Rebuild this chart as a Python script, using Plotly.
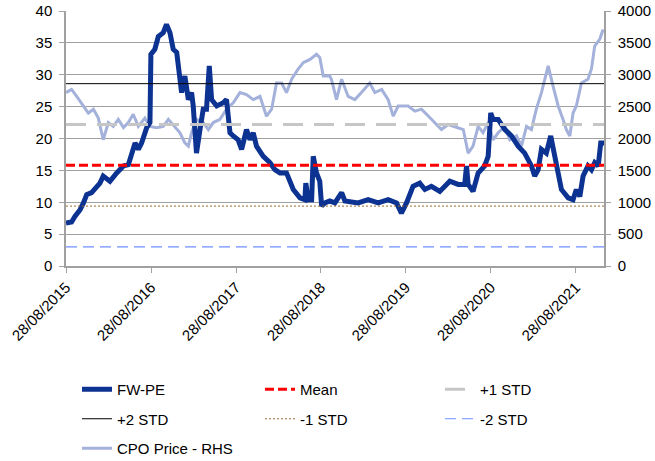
import pandas as pd
import plotly.graph_objects as go

# ---- data (x = years elapsed since 28/08/2015) ----
start_date = "2015-08-28"
end_offset = 6.333

fwpe_t = [0.000, 0.067, 0.106, 0.165, 0.204, 0.243, 0.302, 0.361, 0.400, 0.439,
          0.518, 0.596, 0.675, 0.733, 0.773, 0.812, 0.851, 0.890, 0.949, 0.988,
          1.000, 1.047, 1.086, 1.145, 1.184, 1.224, 1.263, 1.302, 1.341, 1.361,
          1.400, 1.439, 1.478, 1.498, 1.537, 1.557, 1.576, 1.616, 1.655, 1.686,
          1.714, 1.773, 1.851, 1.890, 1.929, 1.969, 2.027, 2.067, 2.125, 2.165,
          2.204, 2.243, 2.322, 2.400, 2.459, 2.518, 2.596, 2.675, 2.753, 2.812,
          2.824, 2.851, 2.890, 2.910, 2.949, 2.988, 3.008, 3.047, 3.106, 3.165,
          3.243, 3.282, 3.439, 3.557, 3.675, 3.792, 3.890, 3.949, 4.008, 4.086,
          4.165, 4.224, 4.302, 4.400, 4.518, 4.616, 4.694, 4.714, 4.733, 4.792,
          4.851, 4.929, 4.969, 5.000, 5.027, 5.086, 5.165, 5.243, 5.322, 5.400,
          5.478, 5.518, 5.557, 5.596, 5.655, 5.706, 5.753, 5.792, 5.831, 5.910,
          5.969, 6.008, 6.047, 6.086, 6.145, 6.184, 6.224, 6.263, 6.294, 6.333]
fwpe_v = [6.75, 6.9, 7.8, 8.8, 9.9, 11.2, 11.5, 12.5, 13.0, 14.1,
          13.3, 14.6, 15.7, 15.9, 17.7, 19.3, 18.3, 19.3, 21.7, 22.5,
          33.2, 34.0, 36.0, 36.6, 37.9, 36.6, 34.0, 33.5, 29.3, 27.2,
          29.8, 26.1, 27.2, 25.1, 17.7, 19.3, 21.4, 24.6, 24.6, 31.4,
          26.1, 25.1, 25.6, 26.1, 20.9, 20.4, 19.8, 18.3, 21.4, 19.8,
          20.9, 18.8, 17.2, 16.2, 15.1, 14.6, 14.6, 12.0, 10.7, 10.4,
          13.0, 10.4, 10.4, 17.2, 14.6, 13.3, 9.4, 9.9, 10.2, 9.9,
          11.5, 10.2, 9.9, 10.4, 9.9, 10.4, 9.9, 8.3, 9.9, 12.5,
          13.0, 12.0, 12.5, 11.7, 13.3, 12.8, 12.8, 15.7, 12.8, 11.7,
          14.6, 15.7, 17.2, 24.0, 23.0, 23.0, 21.4, 20.4, 18.8, 17.7,
          15.7, 14.1, 15.1, 18.3, 17.7, 20.4, 17.2, 14.6, 12.0, 10.7,
          10.4, 12.0, 10.9, 14.1, 15.7, 15.1, 16.2, 15.7, 19.3, 19.3]

cpo_t = [0.000, 0.067, 0.125, 0.204, 0.263, 0.322, 0.380, 0.439, 0.498, 0.557,
         0.616, 0.675, 0.733, 0.792, 0.851, 0.929, 0.988, 1.067, 1.145, 1.204,
         1.282, 1.341, 1.400, 1.439, 1.478, 1.537, 1.616, 1.675, 1.733, 1.812,
         1.890, 1.969, 2.047, 2.125, 2.204, 2.282, 2.361, 2.420, 2.478, 2.537,
         2.596, 2.655, 2.733, 2.792, 2.871, 2.949, 2.988, 3.027, 3.106, 3.125,
         3.184, 3.243, 3.322, 3.400, 3.478, 3.576, 3.635, 3.714, 3.792, 3.851,
         3.910, 4.027, 4.106, 4.184, 4.243, 4.341, 4.420, 4.498, 4.596, 4.675,
         4.733, 4.792, 4.851, 4.910, 4.969, 5.027, 5.086, 5.165, 5.224, 5.302,
         5.361, 5.420, 5.478, 5.537, 5.596, 5.675, 5.733, 5.792, 5.851, 5.890,
         5.929, 5.969, 6.008, 6.067, 6.145, 6.184, 6.224, 6.282, 6.322]
cpo_v = [2720, 2770, 2660, 2510, 2400, 2460, 2320, 1980, 2250, 2190,
         2300, 2170, 2250, 2380, 2190, 2320, 2190, 2170, 2190, 2300,
         2190, 2090, 1930, 1880, 2090, 2300, 2250, 2140, 2250, 2300,
         2460, 2560, 2720, 2690, 2610, 2660, 2350, 2460, 2870, 2870,
         2720, 2930, 3090, 3190, 3240, 3320, 3270, 2980, 2980, 2930,
         2610, 2930, 2660, 2610, 2720, 2870, 2720, 2770, 2610, 2350,
         2510, 2510, 2430, 2460, 2380, 2250, 2140, 2220, 2170, 2140,
         1770, 1880, 2190, 2090, 2250, 1980, 2090, 2190, 1980, 2040,
         1880, 2190, 2140, 2460, 2720, 3140, 2820, 2510, 2300, 2140,
         2040, 2400, 2510, 2870, 2930, 3090, 3450, 3560, 3710]

mean_pe = 15.8
plus1_std = 22.2
plus2_std = 28.6
minus1_std = 9.4
minus2_std = 3.0

tick_dates = ["2015-08-28", "2016-08-28", "2017-08-28", "2018-08-28",
              "2019-08-28", "2020-08-28", "2021-08-28"]
left_ticks = [0, 5, 10, 15, 20, 25, 30, 35, 40]
right_ticks = [0, 500, 1000, 1500, 2000, 2500, 3000, 3500, 4000]


def to_dates(ts):
    base = pd.Timestamp(start_date)
    out = []
    for t in ts:
        d = base + pd.Timedelta(days=round(t * 365.25))
        out.append(d.strftime("%Y-%m-%d"))
    return out


fwpe_x = to_dates(fwpe_t)
cpo_x = to_dates(cpo_t)
x_start, x_end = to_dates([0.0, end_offset])
span = [x_start, x_end]

FONT = "Liberation Sans, Arial, sans-serif"
GRID = "#a0a0a0"

fig = go.Figure()

# CPO on the right-hand axis (main y, drawn underneath)
fig.add_trace(go.Scatter(x=cpo_x, y=cpo_v, name="CPO Price - RHS", mode="lines",
                         line=dict(color="#a3b1db", width=3), yaxis="y",
                         legend="legend", legendgroup="g7", legendrank=3))
# FW-PE and statistics on the left-hand axis (y2, overlaid on top)
fig.add_trace(go.Scatter(x=fwpe_x, y=fwpe_v, name="FW-PE", mode="lines",
                         line=dict(color="#0c3391", width=5), yaxis="y2",
                         legend="legend", legendgroup="g1", legendrank=1))
fig.add_trace(go.Scatter(x=span, y=[mean_pe] * 2, name="Mean", mode="lines",
                         line=dict(color="#ff0000", width=3, dash="9px,4px"),
                         yaxis="y2", legend="legend2", legendgroup="g2", legendrank=1))
fig.add_trace(go.Scatter(x=span, y=[plus1_std] * 2, name="+1 STD", mode="lines",
                         line=dict(color="#c6c6c6", width=3, dash="20px,11px"),
                         yaxis="y2", legend="legend3", legendgroup="g3", legendrank=1))
fig.add_trace(go.Scatter(x=span, y=[plus2_std] * 2, name="+2 STD", mode="lines",
                         line=dict(color="#000000", width=1),
                         yaxis="y2", legend="legend", legendgroup="g4", legendrank=2))
fig.add_trace(go.Scatter(x=span, y=[minus1_std] * 2, name="-1 STD", mode="lines",
                         line=dict(color="#996633", width=1, dash="2px,2px"),
                         yaxis="y2", legend="legend2", legendgroup="g5", legendrank=2))
fig.add_trace(go.Scatter(x=span, y=[minus2_std] * 2, name="-2 STD", mode="lines",
                         line=dict(color="#6f8fff", width=1.2, dash="11px,6px"),
                         yaxis="y2", legend="legend3", legendgroup="g6", legendrank=2))

leg_common = dict(xref="container", yref="container", xanchor="left", yanchor="top",
                  orientation="v", traceorder="grouped", tracegroupgap=7,
                  bgcolor="rgba(0,0,0,0)", font=dict(family=FONT, size=15, color="#000"),
                  itemwidth=30)

fig.update_layout(
    width=655, height=461,
    margin=dict(l=66, r=51, t=11, b=195, autoexpand=False),
    paper_bgcolor="white", plot_bgcolor="white",
    font=dict(family=FONT, size=15, color="#000"),
    showlegend=True,
    legend=dict(x=77 / 655, y=1 - 373 / 461, **leg_common),
    legend2=dict(x=260 / 655, y=1 - 373 / 461, **leg_common),
    legend3=dict(x=440 / 655, y=1 - 373 / 461, **leg_common),
    xaxis=dict(type="date", range=span, tickvals=tick_dates,
               tickformat="%d/%m/%Y", tickangle=-45, showgrid=False,
               showline=True, linecolor=GRID, linewidth=1.5,
               ticks="outside", ticklen=5, tickcolor=GRID, zeroline=False,
               automargin=False),
    yaxis=dict(range=[0, 4000], tickvals=right_ticks, side="right",
               showgrid=True, gridcolor=GRID, gridwidth=1,
               showline=True, linecolor=GRID, linewidth=1.5,
               ticks="outside", ticklen=5, tickcolor=GRID, zeroline=False,
               ticklabelstandoff=4, automargin=False),
    yaxis2=dict(range=[0, 40], tickvals=left_ticks, overlaying="y", side="left",
                showgrid=False, showline=True, linecolor=GRID, linewidth=1.5,
                ticks="outside", ticklen=5, tickcolor=GRID, zeroline=False,
                ticklabelstandoff=4, automargin=False),
)

fig.write_html("out.html")
